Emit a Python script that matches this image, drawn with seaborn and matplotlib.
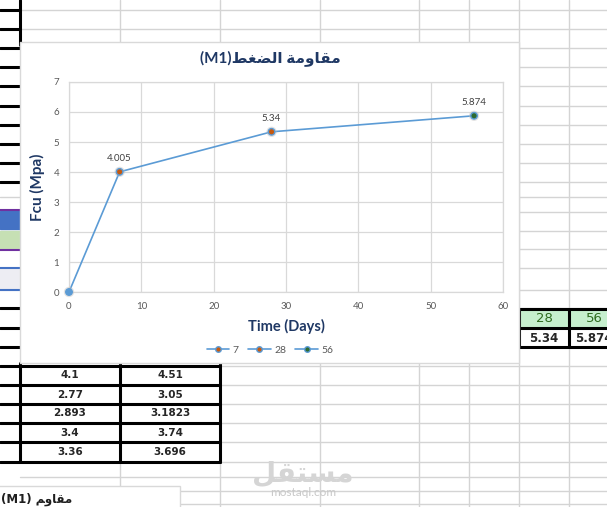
import pandas as pd
import matplotlib.pyplot as plt
import matplotlib.patches as mpatches
from matplotlib.lines import Line2D
import seaborn as sns

# chart data
days = [0, 7, 28, 56]
fcu = [0, 4.005, 5.34, 5.874]
point_names = ['0', '7', '28', '56']
point_colors = ['#5B9BD5', '#C55A11', '#C55A11', '#2E6B30']
legend_names = ['7', '28', '56']
x_ticks = [0, 10, 20, 30, 40, 50, 60]
y_ticks = [0, 1, 2, 3, 4, 5, 6, 7]

# arabic text written in visual order with presentation forms (no shaping in matplotlib)
title_txt = '(M1)' + '\ufec2\ufed0\ufec0\ufedf\ufe8d \ufe94\ufee3\ufeed\ufe8e\ufed8\ufee3'
cell_txt = '(M1) ' + '\ufee2\ufeed\ufe8e\ufed8\ufee3'
mark_txt = '\ufede\ufed8\ufe98\ufeb4\ufee3'

# sheet cells around the chart
table_left = [['4.1', '4.51'], ['2.77', '3.05'], ['2.893', '3.1823'],
              ['3.4', '3.74'], ['3.36', '3.696']]
table_right_head = ['28', '56']
table_right_vals = ['5.34', '5.874']

sns.set_style('white')
plt.rcParams['font.family'] = ['Lato', 'DejaVu Sans']

W, H = 607, 507
fig = plt.figure(figsize=(W / 100, H / 100), dpi=100)

# ---- spreadsheet background (pixel coords) ----
bg = fig.add_axes([0, 0, 1, 1])
bg.set_xlim(0, W)
bg.set_ylim(H, 0)
bg.axis('off')
grid_c = '#D4D4D4'
for x in [120, 220, 320, 419, 469, 519, 569]:
    bg.plot([x, x], [0, H], color=grid_c, lw=1)
rows = [10, 29, 48, 67, 86, 106, 125, 144, 163, 182, 197, 212, 231, 249,
        268, 290, 308, 328, 347, 366, 385, 404, 423, 442, 462, 477, 491, 504]
for y in rows:
    bg.plot([20, W], [y, y], color=grid_c, lw=1)

# left strip
for y in [10, 29, 48, 67, 86, 106, 125, 144, 163, 182, 308, 328, 347]:
    bg.plot([0, 20], [y, y], color='black', lw=2.2)
bg.plot([0, 20], [197, 197], color=grid_c, lw=1)
bg.add_patch(mpatches.Rectangle((0, 211), 20, 18, color='#4472C4', zorder=3))
bg.add_patch(mpatches.Rectangle((0, 231), 20, 17, color='#C6E0B4', zorder=3))
bg.add_patch(mpatches.Rectangle((0, 268), 20, 22, color='#EDEDF3', zorder=3))
for y, c in [(210, '#7030A0'), (250, '#7030A0'), (268, '#4472C4'), (290, '#4472C4')]:
    bg.plot([0, 20], [y, y], color=c, lw=1.5, zorder=4)
bg.plot([20, 20], [0, 45], color='black', lw=2.2)

# lower left table
t_rows = [366, 385, 404, 423, 442, 462]
for y in t_rows:
    bg.plot([0, 220], [y, y], color='black', lw=2.2)
for x in [20, 120, 220]:
    bg.plot([x, x], [363, 462], color='black', lw=2.2)
for i, (a, b) in enumerate(table_left):
    yc = (t_rows[i] + t_rows[i + 1]) / 2
    bg.text(70, yc, a, ha='center', va='center', fontsize=7.5, fontweight='bold', family='DejaVu Sans')
    bg.text(170, yc, b, ha='center', va='center', fontsize=7.5, fontweight='bold', family='DejaVu Sans')

# right table
for j in range(2):
    x0 = 519 + 50 * j
    bg.add_patch(mpatches.Rectangle((x0, 309), 50, 19, color='#C6EFCE', zorder=3))
    bg.text(x0 + 25, 319, table_right_head[j], ha='center', va='center',
            fontsize=9.5, color='#2E6B1F', family='DejaVu Sans', zorder=6)
    bg.text(x0 + 25, 338, table_right_vals[j], ha='center', va='center',
            fontsize=8.5, fontweight='bold', family='DejaVu Sans', zorder=6)
for y in [309, 328, 347]:
    bg.plot([519, W], [y, y], color='black', lw=2.2, zorder=5)
for x in [519, 569]:
    bg.plot([x, x], [309, 347], color='black', lw=2.2, zorder=5)

# bottom left cell and watermark
bg.add_patch(mpatches.Rectangle((-2, 486), 182, 30, facecolor='white', edgecolor='#D9D9D9',
                                lw=1, zorder=5))
bg.text(1, 499, cell_txt, ha='left', va='center', fontsize=8.5, fontweight='bold',
        color='#1F1F1F', family=['DejaVu Sans'], zorder=6)
bg.text(303, 474, mark_txt, ha='center', va='center', fontsize=20, fontweight='bold',
        color='#D5D5D5', family=['DejaVu Sans'], zorder=6)
bg.text(303, 492, 'mostaql.com', ha='center', va='center', fontsize=8.5, color='#C8C8C8', zorder=6)

# chart panel
bg.add_patch(mpatches.Rectangle((20, 42), 499, 321, facecolor='white', edgecolor='#D9D9D9',
                                lw=1, zorder=7))

# ---- chart ----
df = pd.DataFrame({'day': days, 'fcu': fcu, 'name': point_names})
ax = fig.add_axes([69 / W, (H - 292) / H, 434 / W, 210 / H])
line_c = '#5B9BD5'
sns.lineplot(data=df, x='day', y='fcu', ax=ax, color=line_c, lw=1.2, zorder=2)
sns.scatterplot(data=df, x='day', y='fcu', ax=ax, s=55, color='#BFBFBF', alpha=0.45,
                edgecolor='none', legend=False, zorder=3, clip_on=False)
sns.scatterplot(data=df, x='day', y='fcu', hue='name', palette=point_colors, ax=ax,
                s=22, edgecolor=line_c, linewidth=1, legend=False, zorder=4, clip_on=False)
for i in range(1, len(days)):
    ax.annotate(f'{fcu[i]:g}', (days[i], fcu[i]), xytext=(0, 9.5), textcoords='offset points',
                ha='center', va='center', fontsize=7, color='#404040')

ax.set_xlim(0, 60)
ax.set_ylim(0, 7)
ax.set_xticks(x_ticks)
ax.set_yticks(y_ticks)
ax.grid(True, color='#D9D9D9', lw=0.9)
for s in ax.spines.values():
    s.set_color('#D9D9D9')
    s.set_linewidth(0.9)
ax.tick_params(length=0, labelsize=7, labelcolor='#595959', pad=7)
ax.set_xlabel('Time (Days)', fontsize=10.5, fontweight='bold', color='#1F3864', labelpad=6)
ax.set_ylabel('Fcu (Mpa)', fontsize=11, fontweight='bold', color='#1F3864', labelpad=6)
fig.text(270 / W, 1 - 58 / H, title_txt, ha='center', va='center', fontsize=11,
         fontweight='bold', color='#1F3864', family=['Lato', 'DejaVu Sans'])

handles = [Line2D([0], [0], color=line_c, lw=1.2, marker='o', markersize=4,
                  markerfacecolor=c, markeredgecolor=line_c) for c in point_colors[1:]]
fig.legend(handles, legend_names, loc='center', bbox_to_anchor=(270 / W, 1 - 350 / H),
           ncol=3, frameon=False, fontsize=7.5, labelcolor='#595959',
           handlelength=2.2, handletextpad=0.3, columnspacing=0.9)

fig.savefig('out.png', dpi=100)
